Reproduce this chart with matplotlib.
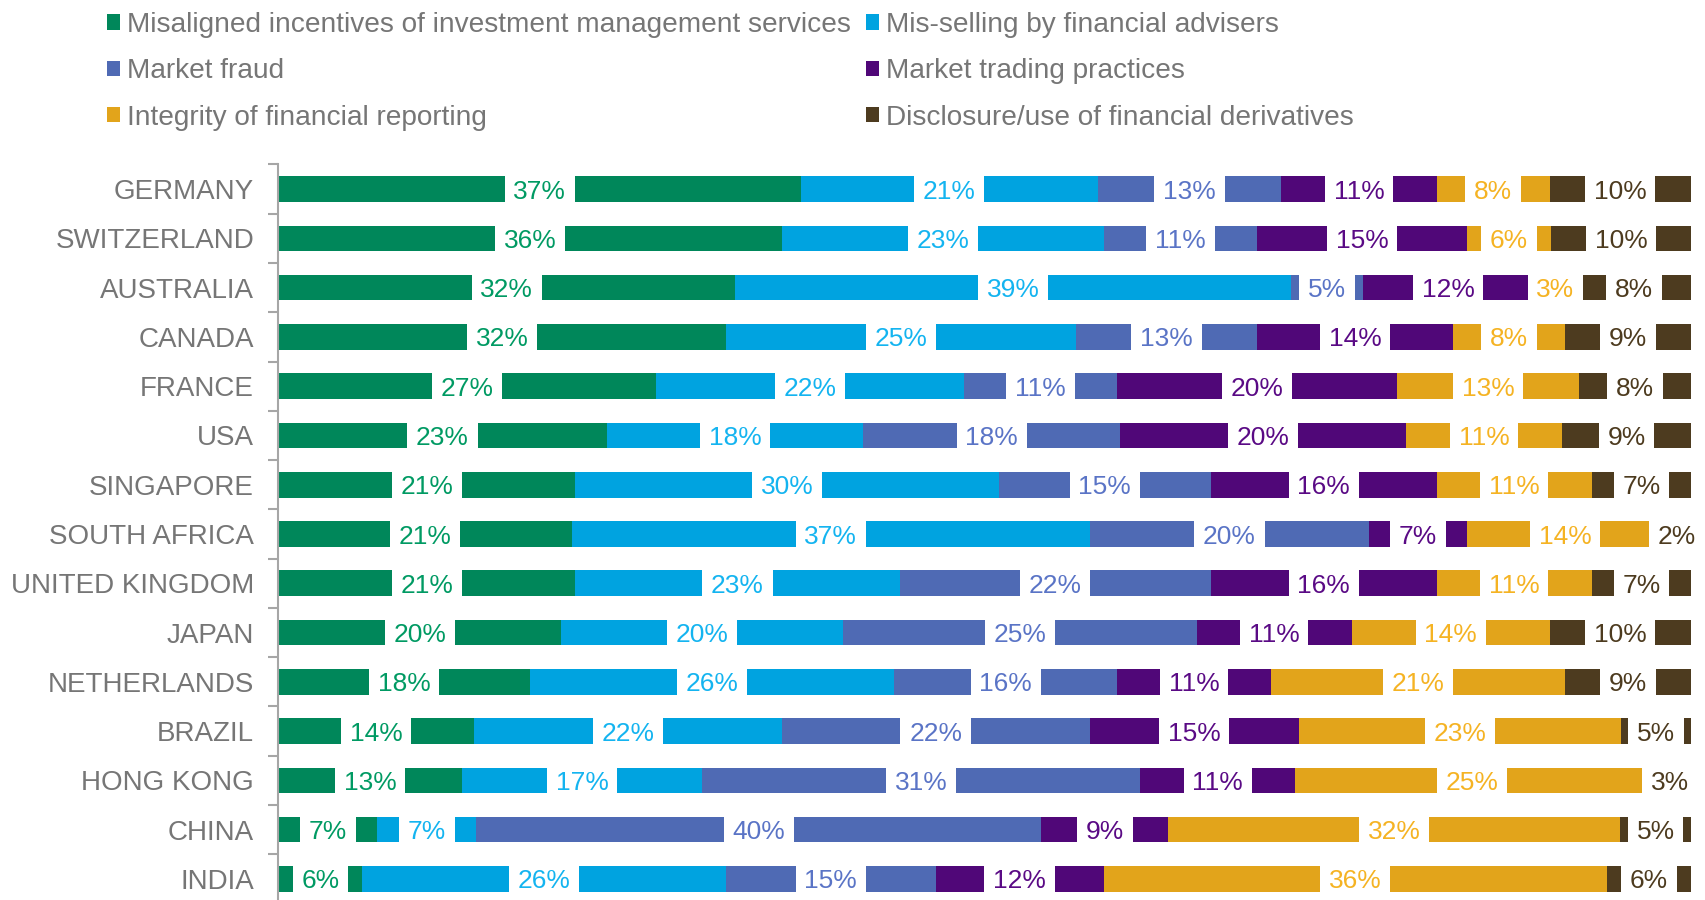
import matplotlib
matplotlib.use("Agg")
import matplotlib.pyplot as plt
import numpy as np

plt.rcParams['font.family'] = ['Liberation Sans', 'DejaVu Sans']

countries = ["GERMANY", "SWITZERLAND", "AUSTRALIA", "CANADA", "FRANCE", "USA",
             "SINGAPORE", "SOUTH AFRICA", "UNITED KINGDOM", "JAPAN", "NETHERLANDS",
             "BRAZIL", "HONG KONG", "CHINA", "INDIA"]
misaligned = [37, 36, 32, 32, 27, 23, 21, 21, 21, 20, 18, 14, 13, 7, 6]
misselling = [21, 23, 39, 25, 22, 18, 30, 37, 23, 20, 26, 22, 17, 7, 26]
fraud = [13, 11, 5, 13, 11, 18, 15, 20, 22, 25, 16, 22, 31, 40, 15]
trading = [11, 15, 12, 14, 20, 20, 16, 7, 16, 11, 11, 15, 11, 9, 12]
reporting = [8, 6, 3, 8, 13, 11, 11, 14, 11, 14, 21, 23, 25, 32, 36]
derivatives = [10, 10, 8, 9, 8, 9, 7, 2, 7, 10, 9, 5, 3, 5, 6]

series_names = ["Misaligned incentives of investment management services",
                "Mis-selling by financial advisers",
                "Market fraud",
                "Market trading practices",
                "Integrity of financial reporting",
                "Disclosure/use of financial derivatives"]
series = [misaligned, misselling, fraud, trading, reporting, derivatives]
bar_colors = ["#00875A", "#00A3E0", "#4F6AB4", "#500778", "#E2A41B", "#4D3B1F"]
text_colors = ["#009A63", "#14B4F0", "#5A74C6", "#5A0A85", "#F5B323", "#4D3B1F"]

fig = plt.figure(figsize=(17.05, 9), dpi=100)
ax = fig.add_axes([0.1633, -0.004, 0.8284, 0.8213])

vals = np.array(series, dtype=float)
totals = vals.sum(axis=0)
shares = vals / totals * 100
y = np.arange(len(countries))
left = np.zeros(len(countries))
handles = []
for i, name in enumerate(series_names):
    bars = ax.barh(y, shares[i], left=left, height=0.52, color=bar_colors[i],
                   label=name, zorder=2)
    handles.append(bars)
    for j in range(len(countries)):
        ax.text(left[j] + shares[i][j] / 2, y[j], f"{int(series[i][j])}%",
                ha='center', va='center_baseline', fontsize=19,
                color=text_colors[i], zorder=5,
                bbox=dict(boxstyle='square,pad=0.33', fc='white', ec='none'))
    left += shares[i]

ax.set_xlim(0, 100)
ax.set_ylim(len(countries) - 0.5, -0.5)
ax.set_yticks(y)
ax.set_yticklabels(countries, fontsize=20, color="#767676")
ax.set_yticks(np.arange(-0.5, len(countries), 1), minor=True)
ax.tick_params(axis='y', which='major', length=0, pad=17.5)
ax.tick_params(axis='y', which='minor', length=7, width=1.5, color="#A6A6A6", direction='out')
ax.set_xticks([])
for s in ['top', 'right', 'bottom']:
    ax.spines[s].set_visible(False)
ax.spines['left'].set_color("#A6A6A6")
ax.spines['left'].set_linewidth(1.5)
ax.spines['left'].set_zorder(3)

order = [0, 2, 4, 1, 3, 5]
leg = fig.legend([handles[k] for k in order], [series_names[k] for k in order],
                 loc='upper left', bbox_to_anchor=(0.0625, 0.9865), ncol=2,
                 frameon=False, fontsize=20.2, handlelength=0.48, handleheight=0.48,
                 handletextpad=0.25, columnspacing=0.52, labelspacing=0.72,
                 borderpad=0, borderaxespad=0)
for t in leg.get_texts():
    t.set_color("#767676")

fig.savefig("out.png", dpi=100)
